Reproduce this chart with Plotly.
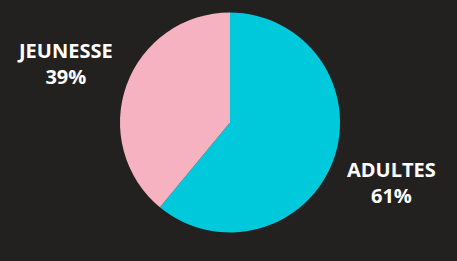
import plotly.graph_objects as go

categories = ["ADULTES", "JEUNESSE"]
values = [61, 39]
colors = ["#00C9DB", "#F7B2C1"]

W, H = 457, 261
cx, cy, r = 230, 122.5, 110

fig = go.Figure(go.Pie(
    labels=categories,
    values=values,
    sort=False,
    direction="clockwise",
    rotation=0,
    marker=dict(colors=colors, line=dict(width=0)),
    textinfo="none",
    hoverinfo="label+percent",
    showlegend=False,
    domain=dict(x=[(cx - r) / W, (cx + r) / W], y=[(H - cy - r) / H, (H - cy + r) / H]),
))

label_pos = {"JEUNESSE": (65, 63), "ADULTES": (391, 182)}
total = sum(values)
for cat, val in zip(categories, values):
    px, py = label_pos[cat]
    fig.add_annotation(
        x=px / W, y=(H - py) / H, xref="paper", yref="paper",
        text=f"{cat}<br>{round(val / total * 100)}%",
        showarrow=False, xanchor="center", yanchor="middle",
        font=dict(family="Open Sans", size=20, color="white", weight="bold"),
        align="center",
    )

fig.update_layout(
    width=W, height=H,
    margin=dict(l=0, r=0, t=0, b=0),
    paper_bgcolor="#232120",
    plot_bgcolor="#232120",
)
fig.write_html(
    "out.html",
    config={"displayModeBar": False},
    post_script="document.body.style.margin='0';document.body.style.background='#232120';",
)
